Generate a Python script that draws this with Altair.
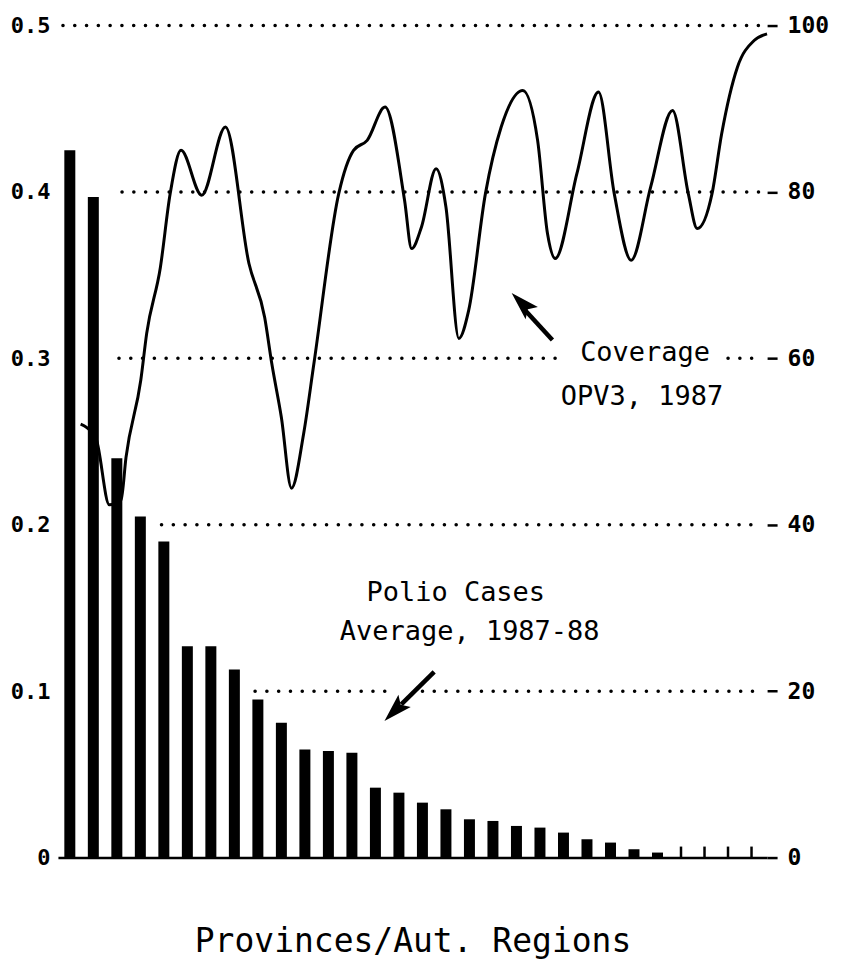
import altair as alt
import pandas as pd

# ---------------- data ----------------
province = list(range(1, 31))
polio_cases = [0.425, 0.397, 0.240, 0.205, 0.190, 0.127, 0.127, 0.113, 0.095, 0.081,
               0.065, 0.064, 0.063, 0.042, 0.039, 0.033, 0.029, 0.023, 0.022, 0.019,
               0.018, 0.015, 0.011, 0.009, 0.005, 0.003, 0.0, 0.0, 0.0, 0.0]

cov_pos = [1.46, 1.71, 2.13, 2.68, 3.18, 3.39, 4.02, 4.27, 4.85, 5.27, 5.73, 6.61, 7.62,
           8.62, 9.29, 9.59, 10.0, 10.43, 10.95, 11.39, 12.44, 13.07, 13.65, 14.41, 15.24,
           15.54, 15.96, 16.58, 17.0, 17.55, 17.97, 18.68, 19.35, 20.27, 20.9, 21.32,
           21.65, 22.57, 23.49, 24.16, 24.88, 25.71, 26.64, 27.31, 27.69, 28.32, 28.73,
           29.4, 30.11, 30.66]
coverage = [52.1, 51.7, 50.2, 42.4, 43.0, 48.1, 57.4, 63.0, 70.9, 79.8, 85.0, 79.6, 87.8,
            71.4, 64.9, 59.4, 52.9, 44.4, 51.0, 59.5, 79.8, 85.0, 86.2, 90.2, 79.0,
            73.2, 75.8, 82.8, 78.2, 62.4, 65.8, 79.8, 87.8, 92.2, 86.2, 75.0,
            72.0, 82.2, 92.0, 79.8, 71.8, 80.6, 89.8, 79.8, 75.6, 79.8, 87.0,
            95.0, 98.2, 99.0]

left_ticks = [0, 0.1, 0.2, 0.3, 0.4, 0.5]
right_ticks = [0, 20, 40, 60, 80, 100]

# dotted reference lines (left-axis units), start / end along the province axis
grid_value = [0.5, 0.4, 0.3, 0.3, 0.2, 0.1, 0.1]
grid_from = [0.707, 3.22, 3.09, 29.0, 4.9, 8.88, 16.0]
grid_to = [30.45, 30.45, 21.95, 30.45, 30.45, 14.49, 30.45]

# annotations
polio_text = ["Polio Cases", "Average, 1987-88"]
polio_text_pos = [17.42, 18.01]
polio_text_val = [0.159, 0.1357]
polio_arrow = dict(p1=16.5, v1=0.1116, p2=15.1, v2=0.092, hp=14.86, hv=0.0888)

cov_text = ["Coverage", "OPV3, 1987"]
cov_text_pos = [25.47, 25.34]
cov_text_val = [60.6, 55.3]
cov_arrow = dict(p1=21.53, v1=62.2, p2=20.3, v2=66.0, hp=20.27, hv=66.5)

# ---------------- tables ----------------
bars_df = pd.DataFrame({"province": province, "cases": polio_cases})
line_df = pd.DataFrame({"pos": cov_pos, "coverage": coverage})
grid_df = pd.DataFrame({"gv": grid_value, "g1": grid_from, "g2": grid_to})
ptext_df = pd.DataFrame({"label": polio_text, "tp": polio_text_pos, "tv": polio_text_val})
ctext_df = pd.DataFrame({"label": cov_text, "tp": cov_text_pos, "tv": cov_text_val})
parrow_df = pd.DataFrame([polio_arrow])
carrow_df = pd.DataFrame([cov_arrow])

FONT = "DejaVu Sans Mono"
ARROW = "M0,-1L0.55,0.8L0,0.45L-0.55,0.8Z"

xs = alt.Scale(domain=[0.707, 30.45], nice=False, zero=False)
yl = alt.Scale(domain=[0, 0.5], nice=False)
yr = alt.Scale(domain=[0, 100], nice=False)

x_axis = alt.Axis(labels=False, ticks=False, grid=False, domain=True,
                  domainColor="black", domainWidth=2.5,
                  title="Provinces/Aut. Regions", titleFont=FONT, titleFontSize=33,
                  titleFontWeight="normal", titleColor="black", titlePadding=68)
left_axis = alt.Axis(orient="left", values=left_ticks, ticks=False, tickSize=0,
                     domain=False, grid=False, title=None, labelPadding=8,
                     labelExpr="datum.value == 0 ? '0' : format(datum.value, '.1f')",
                     labelFont=FONT, labelFontSize=22, labelFontWeight="bold",
                     labelColor="black")
right_axis = alt.Axis(orient="right", values=right_ticks, tickSize=10, tickWidth=2.5,
                      tickColor="black", domain=False, grid=False, title=None,
                      labelPadding=10, labelFont=FONT, labelFontSize=23,
                      labelFontWeight="bold", labelColor="black")

grid = alt.Chart(grid_df).mark_rule(
    color="black", strokeWidth=3.5, strokeDash=[0.1, 11.7], strokeCap="round"
).encode(
    x=alt.X("g1:Q", scale=xs, axis=x_axis), x2="g2:Q",
    y=alt.Y("gv:Q", scale=yl, axis=left_axis),
)

bars = alt.Chart(bars_df).mark_bar(color="black", size=11).encode(
    x=alt.X("province:Q", scale=xs, axis=x_axis),
    y=alt.Y("cases:Q", scale=yl, axis=left_axis),
)

zero_ticks = alt.Chart(bars_df).transform_filter("datum.cases == 0").mark_rule(
    color="black", strokeWidth=2.5
).encode(
    x=alt.X("province:Q", scale=xs, axis=x_axis),
    y=alt.Y("cases:Q", scale=yl, axis=left_axis),
    y2=alt.value(822),
)

ptext = alt.Chart(ptext_df).mark_text(
    font=FONT, fontSize=27, color="black", align="center", baseline="middle"
).encode(
    x=alt.X("tp:Q", scale=xs, axis=x_axis),
    y=alt.Y("tv:Q", scale=yl, axis=left_axis),
    text="label:N",
)

pshaft = alt.Chart(parrow_df).mark_rule(color="black", strokeWidth=4.5).encode(
    x=alt.X("p1:Q", scale=xs, axis=x_axis), x2="p2:Q",
    y=alt.Y("v1:Q", scale=yl, axis=left_axis), y2="v2:Q",
)
phead = alt.Chart(parrow_df).mark_point(
    shape=ARROW, filled=True, color="black", size=1000, angle=225, opacity=1
).encode(
    x=alt.X("hp:Q", scale=xs, axis=x_axis),
    y=alt.Y("hv:Q", scale=yl, axis=left_axis),
)

left_group = alt.layer(grid, bars, zero_ticks, ptext, pshaft, phead)

line = alt.Chart(line_df).mark_line(
    color="black", strokeWidth=3, interpolate="monotone"
).encode(
    x=alt.X("pos:Q", scale=xs, axis=x_axis),
    y=alt.Y("coverage:Q", scale=yr, axis=right_axis),
)

ctext = alt.Chart(ctext_df).mark_text(
    font=FONT, fontSize=27, color="black", align="center", baseline="middle"
).encode(
    x=alt.X("tp:Q", scale=xs, axis=x_axis),
    y=alt.Y("tv:Q", scale=yr, axis=right_axis),
    text="label:N",
)

cshaft = alt.Chart(carrow_df).mark_rule(color="black", strokeWidth=4.5).encode(
    x=alt.X("p1:Q", scale=xs, axis=x_axis), x2="p2:Q",
    y=alt.Y("v1:Q", scale=yr, axis=right_axis), y2="v2:Q",
)
chead = alt.Chart(carrow_df).mark_point(
    shape=ARROW, filled=True, color="black", size=1000, angle=315, opacity=1
).encode(
    x=alt.X("hp:Q", scale=xs, axis=x_axis),
    y=alt.Y("hv:Q", scale=yr, axis=right_axis),
)

right_group = alt.layer(line, ctext, cshaft, chead)

chart = alt.layer(left_group, right_group).resolve_scale(y="independent").properties(
    width=710, height=833,
    autosize=alt.AutoSizeParams(type="none"),
    padding={"left": 50, "top": 17, "right": 80, "bottom": 104},
    background="white",
).configure_view(stroke=None)

chart.save("out.html", embed_options={"renderer": "svg", "actions": False})
